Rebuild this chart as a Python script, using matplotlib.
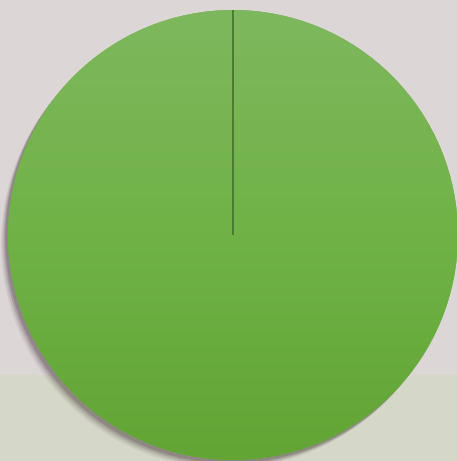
import matplotlib
matplotlib.use('Agg')
import matplotlib.pyplot as plt
import matplotlib.patheffects as pe
from matplotlib.colors import LinearSegmentedColormap
import numpy as np

# one category holding the whole pie
labels = ['Total']
values = [100]

fig = plt.figure(figsize=(4.57, 4.61), dpi=100, facecolor='#dcd6d6')
ax = fig.add_axes([0, 0, 1, 1])
ax.set_facecolor('none')

# faded backdrop: lower band is a bit greener
ax.add_patch(plt.Rectangle((0, 0), 1, 86 / 461, transform=ax.transAxes,
                           facecolor='#d5d8c8', edgecolor='none', zorder=-5))

wedges, _ = ax.pie(values, labels=None, startangle=90, counterclock=False,
                   radius=1, center=(0, 0), frame=False,
                   wedgeprops=dict(linewidth=0, edgecolor='none'))
w = wedges[0]

# soft drop shadow towards bottom left
sh = [pe.SimplePatchShadow(offset=(-o, -o * 1.2), shadow_rgbFace='#4a3a40', alpha=a)
      for o, a in [(5, 0.08), (4, 0.12), (3, 0.18), (2, 0.25)]]
w.set_path_effects(sh + [pe.Normal()])
w.set_facecolor('#70b047')

# vertical green gradient clipped to the slice
cmap = LinearSegmentedColormap.from_list('g', ['#62a535', '#70b246', '#7eb85e'])
grad = np.linspace(0, 1, 256).reshape(-1, 1)
im = ax.imshow(grad, cmap=cmap, extent=(-1, 1, -1, 1), origin='lower',
               aspect='auto', zorder=3)
im.set_clip_path(w)

# radial divider where the slice starts/ends
th = np.deg2rad(w.theta1)
ax.plot([w.center[0], w.center[0] + w.r * np.cos(th)],
        [w.center[1], w.center[1] + w.r * np.sin(th)],
        color='#4c7a30', linewidth=1.4, zorder=4, solid_capstyle='butt')

ax.set_xlim(-233 / 225, 224 / 225)
ax.set_ylim(-226 / 225, 235 / 225)
ax.axis('off')

fig.savefig('out.png', dpi=100, facecolor=fig.get_facecolor())
